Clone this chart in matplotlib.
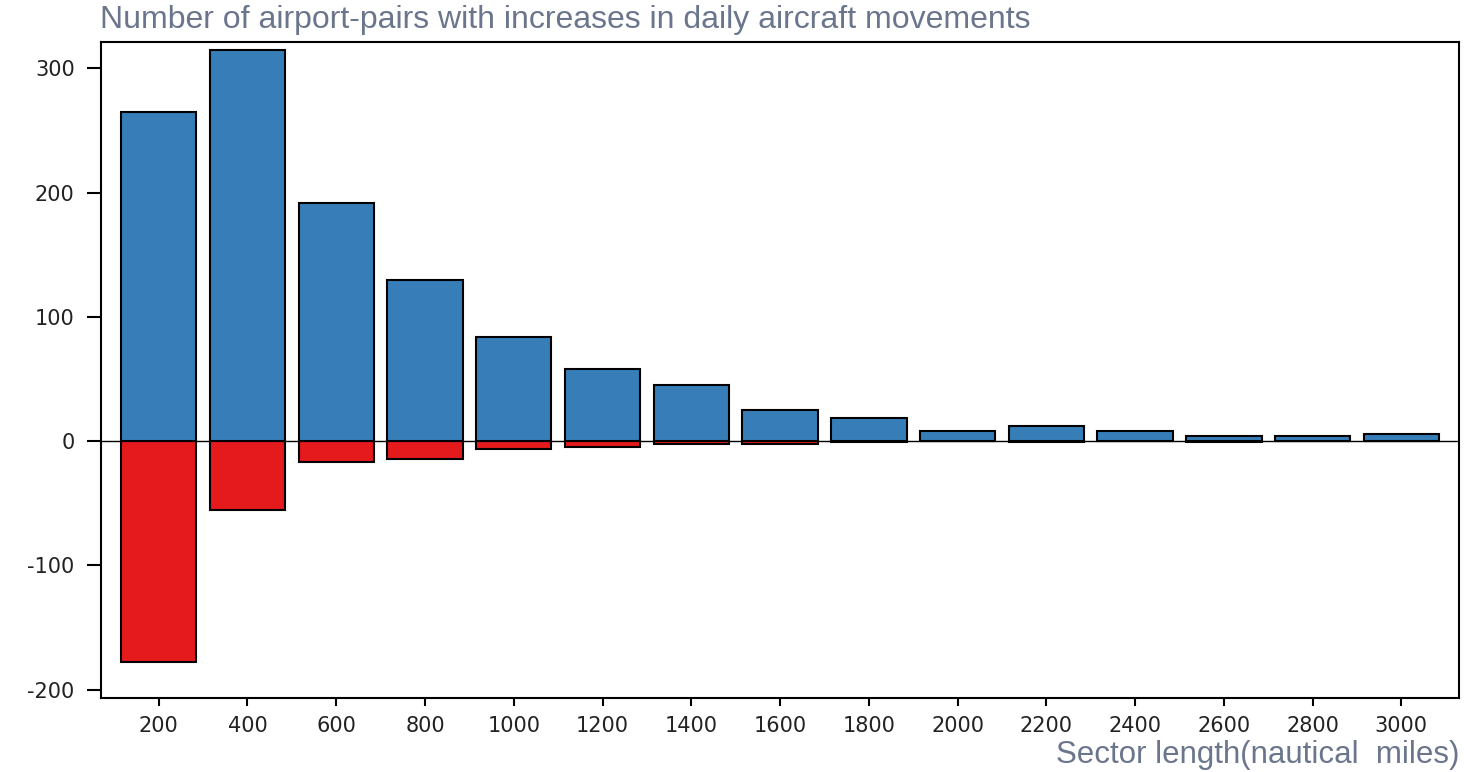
import matplotlib.pyplot as plt
import numpy as np

plt.rcParams['axes.unicode_minus'] = False

# sector length bins (nautical miles)
sectors = [200, 400, 600, 800, 1000, 1200, 1400, 1600, 1800, 2000, 2200, 2400, 2600, 2800, 3000]
# airport-pairs with increases / decreases in daily movements
increases = [265, 315, 192, 130, 84, 58, 45, 25, 19, 8, 12, 8, 4, 4, 6]
decreases = [-178, -55, -17, -14, -6, -5, -2, -2, -1, 0, -1, 0, -1, 0, 0]

blue = '#377eb8'
red = '#e41a1c'
grey = '#6b768c'

fig = plt.figure(figsize=(14.64, 7.72), dpi=100)
ax = fig.add_axes([0.069, 1 - 698 / 772, 0.9276, (698 - 41.7) / 772])

ax.bar(sectors, decreases, width=170, color=red, edgecolor='black', linewidth=1.5, zorder=2)
ax.bar(sectors, increases, width=170, color=blue, edgecolor='black', linewidth=1.5, zorder=3)
ax.axhline(0, color='black', linewidth=1, zorder=1)

ax.set_xlim(70, 3130)
ax.set_ylim(-206.6, 321.4)
ax.set_xticks(sectors)
ax.set_yticks([-200, -100, 0, 100, 200, 300])
ax.tick_params(axis='x', direction='out', length=6, width=1.5, labelsize=15, pad=7)
ax.tick_params(axis='y', direction='out', length=10, width=1.5, labelsize=15, pad=9)
for t in ax.get_xticklabels() + ax.get_yticklabels():
    t.set_family('DejaVu Sans')
    t.set_color('#222222')
for s in ax.spines.values():
    s.set_linewidth(1.5)

fig.text(0.068, 0.974, 'Number of airport-pairs with increases in daily aircraft movements',
         ha='left', va='center', fontsize=23, color=grey, family='Liberation Sans')
fig.text(0.9966, 0.022, 'Sector length(nautical  miles)',
         ha='right', va='center', fontsize=22.5, color=grey, family='Liberation Sans')

fig.savefig('out.png', dpi=100)
